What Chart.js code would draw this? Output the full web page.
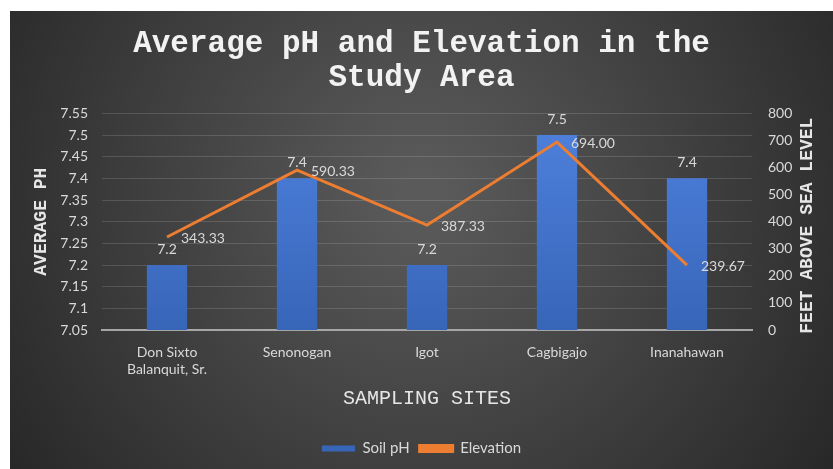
<!DOCTYPE html>
<html>
<head>
<meta charset="utf-8">
<script src="https://cdn.jsdelivr.net/npm/chart.js@4.4.1/dist/chart.umd.min.js"></script>
<style>
  html, body { margin: 0; padding: 0; background: #fff; }
  #wrap { position: absolute; left: 10px; top: 11px; width: 823px; height: 458px; }
</style>
</head>
<body>
<div id="wrap"><canvas id="chart"></canvas></div>
<script>
const sites = [['Don Sixto', 'Balanquit, Sr.'], 'Senonogan', 'Igot', 'Cagbigajo', 'Inanahawan'];
const soilPh = [7.2, 7.4, 7.2, 7.5, 7.4];
const elevation = [343.33, 590.33, 387.33, 694.00, 239.67];
const phTicks = [7.05, 7.1, 7.15, 7.2, 7.25, 7.3, 7.35, 7.4, 7.45, 7.5, 7.55];
const elevTicks = [0, 100, 200, 300, 400, 500, 600, 700, 800];

const tickColor = '#d9d9d9';
const tickFont = { family: 'Lato', size: 14 };

// dark radial background like the office theme
const background = {
    id: 'background',
    beforeDraw(chart) {
        const { ctx, width, height } = chart;
        const g = ctx.createRadialGradient(width / 2, height * 0.4, 20, width / 2, height * 0.4, width * 0.62);
        g.addColorStop(0, '#5a5a5a');
        g.addColorStop(1, '#262626');
        ctx.save();
        ctx.fillStyle = g;
        ctx.fillRect(0, 0, width, height);
        ctx.restore();
    }
};

// value labels + right axis title
const labels = {
    id: 'labels',
    afterDatasetsDraw(chart) {
        const ctx = chart.ctx;
        ctx.save();
        ctx.font = '14px Lato';
        ctx.fillStyle = tickColor;
        ctx.textBaseline = 'middle';

        ctx.textAlign = 'center';
        chart.getDatasetMeta(0).data.forEach((el, i) => {
            ctx.fillText(String(soilPh[i]), el.x, el.y - 16);
        });

        ctx.textAlign = 'left';
        chart.getDatasetMeta(1).data.forEach((el, i) => {
            ctx.fillText(elevation[i].toFixed(2), el.x + 14, el.y + 1);
        });

        const area = chart.chartArea;
        ctx.translate(797, (area.top + area.bottom) / 2 + 4);
        ctx.rotate(-Math.PI / 2);
        ctx.textAlign = 'center';
        ctx.font = 'bold 18px "Liberation Mono"';
        ctx.fillStyle = '#e6e6e6';
        ctx.fillText('FEET ABOVE SEA LEVEL', 0, 0);
        ctx.restore();
    }
};

function barFill(context) {
    const area = context.chart.chartArea;
    if (!area) return '#4472c4';
    const g = context.chart.ctx.createLinearGradient(0, area.top, 0, area.bottom);
    g.addColorStop(0, '#4f82de');
    g.addColorStop(1, '#3765b8');
    return g;
}

new Chart(document.getElementById('chart'), {
    data: {
        labels: sites,
        datasets: [
            {
                type: 'bar',
                label: 'Soil pH',
                data: soilPh,
                yAxisID: 'y',
                backgroundColor: barFill,
                barPercentage: 0.31,
                categoryPercentage: 1,
                order: 2
            },
            {
                type: 'line',
                label: 'Elevation',
                data: elevation,
                yAxisID: 'y1',
                borderColor: '#ed7d31',
                backgroundColor: '#ed7d31',
                borderWidth: 3,
                pointRadius: 0,
                tension: 0,
                order: 1
            }
        ]
    },
    options: {
        responsive: true,
        maintainAspectRatio: false,
        animation: false,
        layout: { padding: { bottom: 3 } },
        plugins: {
            title: {
                display: true,
                text: ['Average pH and Elevation in the', 'Study Area'],
                color: '#f2f2f2',
                font: { family: 'Liberation Mono', size: 31, weight: 'bold', lineHeight: 1.07 },
                padding: { top: 17, bottom: 19 }
            },
            legend: {
                position: 'bottom',
                labels: {
                    color: tickColor,
                    font: { family: 'Lato', size: 15 },
                    boxWidth: 33,
                    boxHeight: 6,
                    padding: 10,
                    sort: (a, b) => a.datasetIndex - b.datasetIndex
                }
            },
            tooltip: { enabled: false }
        },
        scales: {
            x: {
                grid: { display: false },
                border: { color: '#a6a6a6', width: 2 },
                ticks: { color: tickColor, font: tickFont, padding: 6, maxRotation: 0 },
                title: {
                    display: true,
                    text: 'SAMPLING SITES',
                    color: '#e6e6e6',
                    font: { family: 'Liberation Mono', size: 20 },
                    padding: { top: 0, bottom: 20 }
                },
                afterFit(scale) { scale.height = 101; }
            },
            y: {
                position: 'left',
                min: 7.05,
                max: 7.55,
                afterBuildTicks(scale) { scale.ticks = phTicks.map(v => ({ value: v })); },
                grid: { color: 'rgba(255,255,255,0.14)', drawTicks: false },
                border: { display: false },
                ticks: { color: tickColor, font: tickFont, padding: 14, callback: v => String(+v.toFixed(2)) },
                title: {
                    display: true,
                    text: 'AVERAGE PH',
                    color: '#e6e6e6',
                    font: { family: 'Liberation Mono', size: 18, weight: 'bold' },
                    padding: { top: 21, bottom: 21 }
                },
                afterFit(scale) { scale.width = 92; }
            },
            y1: {
                position: 'right',
                min: 0,
                max: 800,
                afterBuildTicks(scale) { scale.ticks = elevTicks.map(v => ({ value: v })); },
                grid: { display: false, drawTicks: false },
                border: { display: false },
                ticks: { color: tickColor, font: tickFont, padding: 16 },
                afterFit(scale) { scale.width = 81; }
            }
        }
    },
    plugins: [background, labels]
});
</script>
</body>
</html>
